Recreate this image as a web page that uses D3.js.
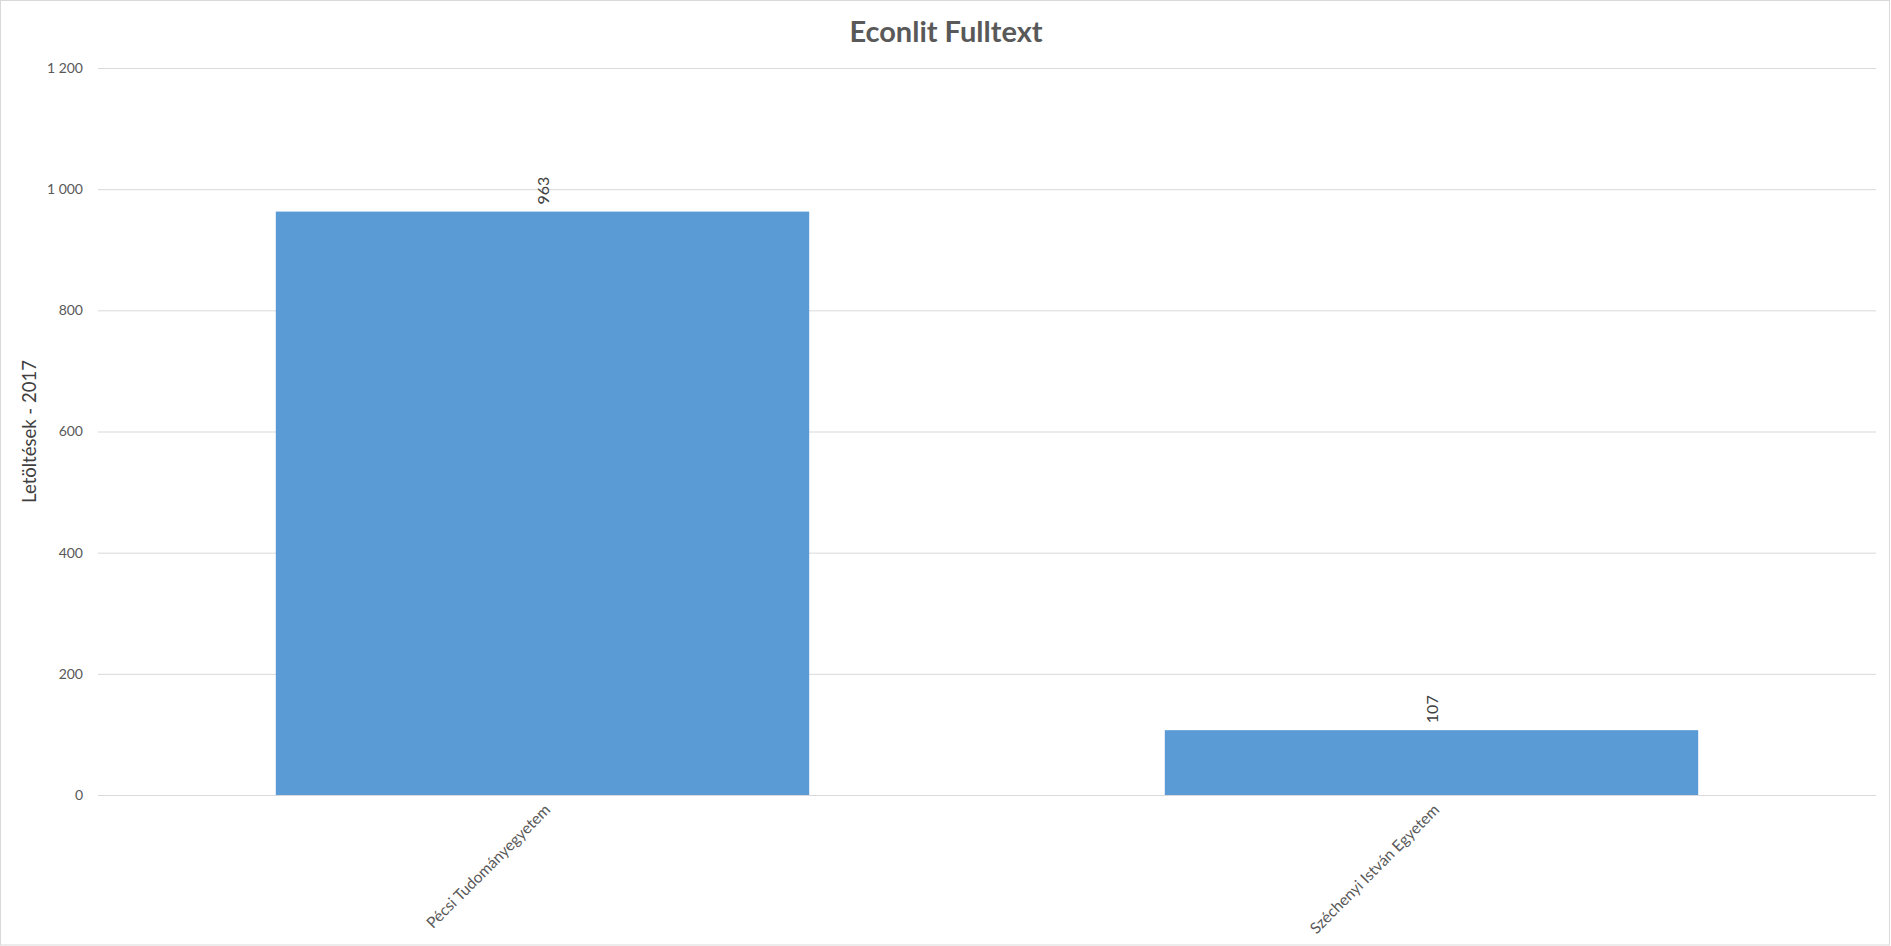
<!DOCTYPE html>
<html>
<head>
<meta charset="utf-8">
<script src="https://cdn.jsdelivr.net/npm/d3@7"></script>
<style>
  html, body { margin: 0; padding: 0; background: #fff; }
  svg { display: block; }
  text { font-family: "Lato", "Open Sans", sans-serif; }
</style>
</head>
<body>
<svg id="chart" width="1891" height="946"></svg>
<script>
const title = "Econlit Fulltext";
const yAxisTitle = "Letöltések - 2017";
const categories = ["Pécsi Tudományegyetem", "Széchenyi István Egyetem"];
const values = [963, 107];
const yTicks = [0, 200, 400, 600, 800, 1000, 1200];

const W = 1891, H = 946;
const margin = { left: 98, right: 15, top: 68, bottom: 151 };
const svg = d3.select("#chart");

svg.append("rect")
  .attr("x", 0.5).attr("y", 0.5)
  .attr("width", W - 2).attr("height", H - 1.5)
  .attr("fill", "#fff").attr("stroke", "#d9d9d9").attr("stroke-width", 1);

const x = d3.scaleBand()
  .domain(categories)
  .range([margin.left, W - margin.right])
  .paddingInner(0.4).paddingOuter(0.2);

const y = d3.scaleLinear()
  .domain([0, 1200])
  .range([H - margin.bottom, margin.top]);

const fmt = v => d3.format(",")(v).replace(/,/g, " ");

const yAxis = d3.axisLeft(y)
  .tickValues(yTicks)
  .tickSize(-(W - margin.right - margin.left))
  .tickPadding(15)
  .tickFormat(fmt);

const gy = svg.append("g")
  .attr("transform", `translate(${margin.left},0)`)
  .call(yAxis);
gy.select(".domain").remove();
gy.selectAll(".tick line").attr("stroke", "#d9d9d9").attr("stroke-width", 1);
gy.selectAll(".tick text")
  .attr("fill", "#595959")
  .style("font-size", "14px")
  .style("font-family", "Lato, 'Open Sans', sans-serif");

svg.append("g").selectAll("rect")
  .data(values)
  .join("rect")
  .attr("x", (d, i) => x(categories[i]))
  .attr("width", x.bandwidth())
  .attr("y", d => y(d))
  .attr("height", d => y(0) - y(d))
  .attr("fill", "#5b9bd5");

svg.append("g").selectAll("text")
  .data(values)
  .join("text")
  .attr("transform", (d, i) => `translate(${x(categories[i]) + x.bandwidth() / 2 + 6},${y(d) - 7}) rotate(-90)`)
  .attr("text-anchor", "start")
  .attr("fill", "#404040")
  .style("font-size", "16px")
  .text(d => d);

const xAxis = d3.axisBottom(x).tickSize(0).tickPadding(0);
const gx = svg.append("g")
  .attr("transform", `translate(0,${y(0)})`)
  .call(xAxis);
gx.select(".domain").remove();
gx.selectAll(".tick text")
  .attr("transform", "translate(5,12) rotate(-45)")
  .attr("text-anchor", "end")
  .attr("dy", "0.35em")
  .attr("y", 0)
  .attr("x", 0)
  .attr("fill", "#595959")
  .style("font-size", "15.5px")
  .style("font-family", "Lato, 'Open Sans', sans-serif");

svg.append("text")
  .attr("x", 946).attr("y", 42)
  .attr("text-anchor", "middle")
  .attr("fill", "#595959")
  .style("font-size", "29px")
  .style("font-weight", "bold")
  .text(title);

svg.append("text")
  .attr("transform", `translate(36,${(y(0) + y(1200)) / 2}) rotate(-90)`)
  .attr("text-anchor", "middle")
  .attr("fill", "#404040")
  .style("font-size", "18.5px")
  .text(yAxisTitle);
</script>
</body>
</html>
